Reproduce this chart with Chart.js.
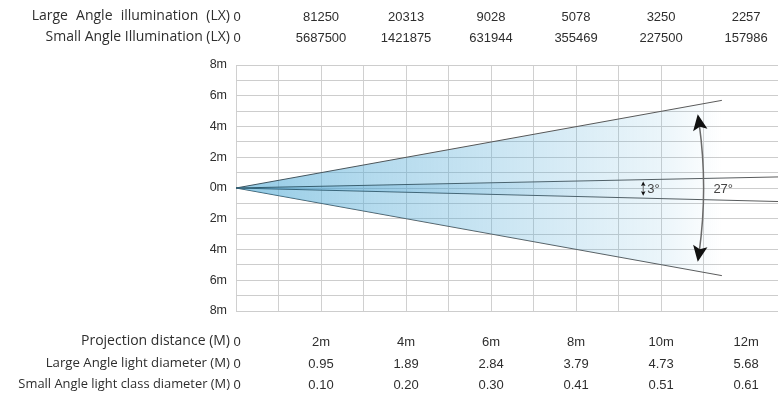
<!DOCTYPE html>
<html><head><meta charset="utf-8">
<script src="https://cdn.jsdelivr.net/npm/chart.js@4/dist/chart.umd.min.js"></script>
<style>html,body{margin:0;padding:0;background:#fff}#wrap{width:779px;height:398px;position:relative}</style>
</head><body><div id="wrap"><canvas id="c" width="779" height="398"></canvas></div>
<script>
// ---- data ----
const distances = [0, 2, 4, 6, 8, 10, 12];
const distanceLabels = ['0', '2m', '4m', '6m', '8m', '10m', '12m'];
const largeIllum = ['0', '81250', '20313', '9028', '5078', '3250', '2257'];
const smallIllum = ['0', '5687500', '1421875', '631944', '355469', '227500', '157986'];
const largeDiam = ['0', '0.95', '1.89', '2.84', '3.79', '4.73', '5.68'];
const smallDiam = ['0', '0.10', '0.20', '0.30', '0.41', '0.51', '0.61'];
const topRowTitles = ['Large Angle illumination (LX)', 'Small Angle Illumination (LX)'];
const bottomRowTitles = ['Projection distance (M)', 'Large Angle light diameter (M)', 'Small Angle light class diameter (M)'];
const yTickValues = [-8, -6, -4, -2, 0, 2, 4, 6, 8];
const yTickLabels = ['8m', '6m', '4m', '2m', '0m', '2m', '4m', '6m', '8m'];
const largeBeamTop = [{x: 0, y: 0}, {x: 11.43, y: 5.7}];
const largeBeamBottom = [{x: 0, y: 0}, {x: 11.43, y: -5.7}];
const smallBeamTop = [{x: 0, y: 0}, {x: 12.75, y: 0.72}];
const smallBeamBottom = [{x: 0, y: 0}, {x: 12.75, y: -0.88}];
const largeAngleLabel = '27°';
const smallAngleLabel = '3°';

const TEXT = '#2e2e2e';
const LABEL_FAMILY = '"Open Sans", "Noto Sans", sans-serif';
const NUM_FONT = '13px "Liberation Sans", Arial, sans-serif';

function hGrad(chart, x0, x1, stops) {
  const xs = chart.scales.x;
  const g = chart.ctx.createLinearGradient(xs.getPixelForValue(x0), 0, xs.getPixelForValue(x1), 0);
  stops.forEach(s => g.addColorStop(s[0], s[1]));
  return g;
}
const largeFill = ctx => ctx.chart.chartArea ? hGrad(ctx.chart, 0, 11.43, [[0, 'rgba(75,168,212,0.6)'], [0.25, 'rgba(85,172,215,0.46)'], [0.52, 'rgba(85,172,215,0.32)'], [0.87, 'rgba(85,172,215,0.12)'], [1, 'rgba(85,172,215,0)']]) : 'rgba(0,0,0,0)';
const largeLine = ctx => ctx.chart.chartArea ? hGrad(ctx.chart, 0, 11.43, [[0, '#3a5563'], [0.4, '#555'], [1, '#5a5a5a']]) : '#555';
const smallFill = ctx => ctx.chart.chartArea ? hGrad(ctx.chart, 0, 12.75, [[0, 'rgba(60,150,200,0.30)'], [0.45, 'rgba(60,150,200,0.16)'], [0.72, 'rgba(60,150,200,0)'], [1, 'rgba(60,150,200,0)']]) : 'rgba(0,0,0,0)';
const smallLine = ctx => ctx.chart.chartArea ? hGrad(ctx.chart, 0, 12.75, [[0, '#2e5c70'], [0.5, '#4a6470'], [1, '#5a5a5a']]) : '#555';

const tablePlugin = {
  id: 'tables',
  afterDraw(chart) {
    const ctx = chart.ctx, xs = chart.scales.x, ys = chart.scales.y;
    const px = v => xs.getPixelForValue(v);
    const titleRight = px(0) - 6;
    function row(title, values, y, size, wordSpacing) {
      ctx.save();
      ctx.fillStyle = TEXT;
      ctx.textBaseline = 'middle';
      ctx.font = size + 'px ' + LABEL_FAMILY;
      ctx.textAlign = 'right';
      if (wordSpacing && 'wordSpacing' in ctx) ctx.wordSpacing = wordSpacing;
      ctx.fillText(title, titleRight, y);
      if ('wordSpacing' in ctx) ctx.wordSpacing = '0px';
      ctx.textAlign = 'center';
      ctx.font = NUM_FONT;
      values.forEach((v, i) => ctx.fillText(v, px(distances[i]) + (i === 0 ? 1 : 0), y + 1));
      ctx.restore();
    }
    row(topRowTitles[0], largeIllum, 16, 14, '4.5px');
    row(topRowTitles[1], smallIllum, 37, 14);
    row(bottomRowTitles[0], distanceLabels, 341, 14);
    row(bottomRowTitles[1], largeDiam, 363, 13.2);
    row(bottomRowTitles[2], smallDiam, 384, 12.9);

    // angle annotations: arcs centred at the beam apex
    const ax = px(0), ay = ys.getPixelForValue(0);
    function arcArrow(xm, yTop, yBot, head, lw) {
      const R = px(xm) - ax;
      const tTop = Math.asin((ys.getPixelForValue(yTop) - ay) / R);
      const tBot = Math.asin((ys.getPixelForValue(yBot) - ay) / R);
      const hl = head.len / R;
      ctx.save();
      ctx.strokeStyle = '#6a6a6a';
      ctx.lineWidth = lw;
      ctx.beginPath();
      ctx.arc(ax, ay, R, tTop + hl * 0.6, tBot - hl * 0.6);
      ctx.stroke();
      ctx.fillStyle = '#111';
      [[tTop, -1], [tBot, 1]].forEach(([t, dir]) => {
        const tx = ax + R * Math.cos(t), ty = ay + R * Math.sin(t);
        const ux = dir === -1 ? Math.sin(t) : -Math.sin(t);
        const uy = dir === -1 ? -Math.cos(t) : Math.cos(t);
        const nx = -uy, ny = ux;
        const bx = tx - ux * head.len, by = ty - uy * head.len;
        const cx = tx - ux * head.len * 0.8, cy = ty - uy * head.len * 0.8;
        ctx.beginPath();
        ctx.moveTo(tx, ty);
        ctx.lineTo(bx + nx * head.w / 2, by + ny * head.w / 2);
        ctx.lineTo(cx, cy);
        ctx.lineTo(bx - nx * head.w / 2, by - ny * head.w / 2);
        ctx.closePath();
        ctx.fill();
      });
      ctx.restore();
    }
    arcArrow(11, 4.8, -4.8, {len: 16, w: 14.5}, 1.5);
    arcArrow(9.58, 0.42, -0.5, {len: 4.5, w: 4.5}, 1);

    ctx.save();
    ctx.fillStyle = '#444';
    ctx.font = '13px "Liberation Sans", Arial, sans-serif';
    ctx.textBaseline = 'middle';
    ctx.textAlign = 'left';
    ctx.fillText(smallAngleLabel, px(9.58) + 4, ys.getPixelForValue(0) + 1);
    ctx.fillText(largeAngleLabel, px(11.23), ys.getPixelForValue(0) + 1);
    ctx.restore();
  }
};

const lineDs = (data, fill, bg, border) => ({
  data, showLine: true, pointRadius: 0, borderWidth: 1, tension: 0,
  fill, backgroundColor: bg, borderColor: border
});

new Chart(document.getElementById('c'), {
  type: 'scatter',
  data: {
    datasets: [
      lineDs(smallBeamTop, '+1', smallFill, smallLine),
      lineDs(smallBeamBottom, false, 'rgba(0,0,0,0)', smallLine),
      lineDs(largeBeamTop, '+1', largeFill, largeLine),
      lineDs(largeBeamBottom, false, 'rgba(0,0,0,0)', largeLine)
    ]
  },
  options: {
    responsive: false,
    animation: false,
    events: [],
    layout: { padding: { left: 0, top: 65, right: 1, bottom: 87 } },
    plugins: { legend: { display: false }, tooltip: { enabled: false }, title: { display: false }, filler: { propagate: false } },
    scales: {
      x: {
        type: 'linear', min: 0, max: 12.75,
        ticks: { display: false, stepSize: 1 },
        grid: { color: c => (c.tick && c.tick.value > 12.01) ? 'rgba(0,0,0,0)' : '#d0d0d0', drawTicks: false, lineWidth: 1 },
        border: { display: false },
        afterFit: s => { s.height = 0; }
      },
      y: {
        min: -8, max: 8,
        ticks: {
          stepSize: 1, autoSkip: false, padding: 9, color: TEXT,
          font: { family: '"Liberation Sans", Arial, sans-serif', size: 12.5 },
          callback: v => { const i = yTickValues.indexOf(v); return i >= 0 ? yTickLabels[i] : ''; }
        },
        grid: { color: '#cdcdcd', drawTicks: false, lineWidth: 1 },
        border: { display: false },
        afterFit: s => { s.width = 236; }
      }
    }
  },
  plugins: [tablePlugin]
});
</script>
</body></html>
